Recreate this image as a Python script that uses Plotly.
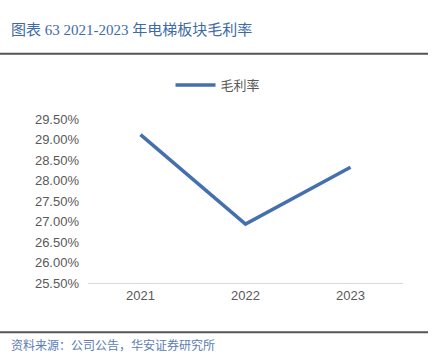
import plotly.graph_objects as go

years = ["2021", "2022", "2023"]
gross_margin = [29.13, 26.94, 28.33]  # %
series_name = "毛利率"
title_text = "图表 63 2021-2023 年电梯板块毛利率"
source_text = "资料来源：公司公告，华安证券研究所"

W, H = 436, 361
L, R, T, B = 88, 33, 114, 78
pw, ph = W - L - R, H - T - B

def px_x(p):
    return (p - L) / pw

def px_y(p):
    return (H - B - p) / ph

fig = go.Figure()
fig.add_trace(go.Scatter(
    x=years, y=gross_margin, mode="lines", name=series_name,
    line=dict(color="#4570AE", width=3.5),
))

fig.update_layout(
    width=W, height=H,
    margin=dict(l=L, r=R, t=T, b=B),
    paper_bgcolor="white", plot_bgcolor="white",
    showlegend=True,
    legend=dict(orientation="h", xref="container", yref="container",
                x=0.5, xanchor="center", y=1 - 85 / H, yanchor="middle",
                font=dict(family="Noto Sans CJK SC", size=13, color="#595959"),
                itemwidth=40, bgcolor="rgba(0,0,0,0)"),
    xaxis=dict(type="category", range=[-0.5, 2.5], showgrid=False,
               showline=True, linecolor="#d9d9d9", linewidth=1, ticks="",
               tickfont=dict(family="Liberation Sans, Arial", size=13, color="#595959")),
    yaxis=dict(range=[25.5, 29.5], dtick=0.5, showgrid=False, zeroline=False,
               showline=False, ticks="", ticksuffix="%", tickformat=".2f",
               ticklabelstandoff=8,
               tickfont=dict(family="Liberation Sans, Arial", size=13, color="#595959")),
    shapes=[
        dict(type="line", xref="paper", yref="paper", x0=px_x(0), x1=px_x(428),
             y0=px_y(46), y1=px_y(46), line=dict(color="#555555", width=2)),
        dict(type="line", xref="paper", yref="paper", x0=px_x(0), x1=px_x(428),
             y0=px_y(334), y1=px_y(334), line=dict(color="#555555", width=2)),
    ],
    annotations=[
        dict(text=title_text, xref="paper", yref="paper", x=px_x(9), y=px_y(21),
             xanchor="left", yanchor="middle", showarrow=False,
             font=dict(family="Liberation Serif, Noto Sans CJK SC", size=15, color="#3E6AA6")),
        dict(text=source_text, xref="paper", yref="paper", x=px_x(9), y=px_y(347),
             xanchor="left", yanchor="middle", showarrow=False,
             font=dict(family="Noto Sans CJK SC", size=12, color="#5B7DB3")),
    ],
)

fig.write_html("out.html", config={"displayModeBar": False},
               post_script="document.body.style.margin='0';document.body.style.overflow='hidden';")
